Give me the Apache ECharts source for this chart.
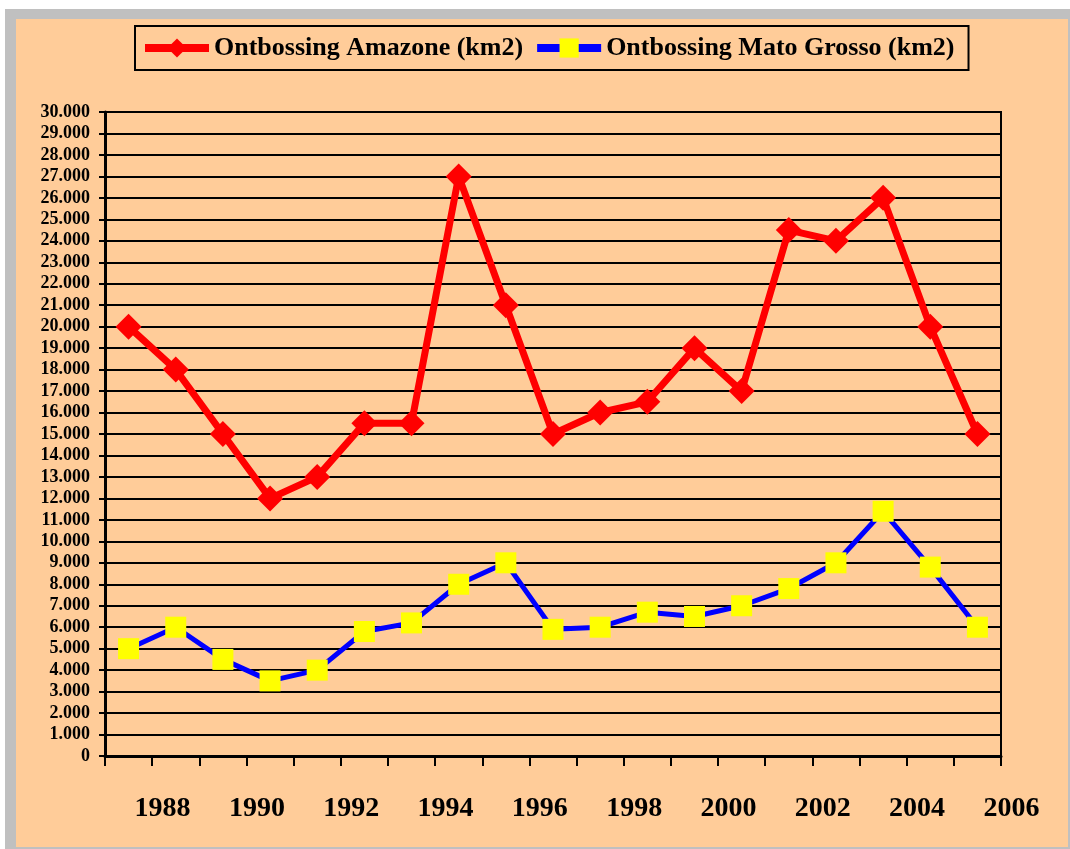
<!DOCTYPE html>
<html>
<head>
<meta charset="utf-8">
<script src="https://cdn.jsdelivr.net/npm/echarts@6/dist/echarts.min.js"></script>
<style>
  html, body { margin: 0; padding: 0; background: #ffffff; }
  #frame { position: absolute; left: 5px; top: 9px; width: 1065px; height: 840px; background: #c0c0c0; }
  #paper { position: absolute; left: 16px; top: 19px; width: 1052px; height: 828px; background: #ffcc99; }
  #main { position: absolute; left: 0; top: 0; width: 1070px; height: 849px; }
</style>
</head>
<body>
<div id="frame"></div>
<div id="paper"></div>
<div id="main"></div>
<script>
const years = ["1988", "1989", "1990", "1991", "1992", "1993", "1994", "1995", "1996", "1997",
  "1998", "1999", "2000", "2001", "2002", "2003", "2004", "2005", "2006"];
const amazone = [20000, 18000, 15000, 12000, 13000, 15500, 15500, 27000, 21000, 15000,
  16000, 16500, 19000, 17000, 24500, 24000, 26000, 20000, 15000];
const matoGrosso = [5000, 6000, 4500, 3500, 4000, 5800, 6200, 8000, 9000, 5900,
  6000, 6700, 6500, 7000, 7800, 9000, 11400, 8800, 6000];

const chart = echarts.init(document.getElementById("main"));
const font = "Liberation Serif";

// 30000 -> "30.000"
function dotted(v) {
  if (v === 0) return "0";
  return Math.round(v / 1000) + ".000";
}

const option = {
  backgroundColor: "transparent",
  animation: false,
  legend: {
    left: 135,
    top: 26,
    padding: [9, 14, 9, 6],
    itemGap: 10,
    itemWidth: 64,
    itemHeight: 24,
    borderColor: "#000",
    borderWidth: 2,
    lineStyle: { width: 8 },
    textStyle: { fontFamily: font, fontWeight: "bold", fontSize: 26, color: "#000" },
    data: ["Ontbossing Amazone (km2)", "Ontbossing Mato Grosso (km2)"]
  },
  grid: {
    left: 105,
    right: 69,
    top: 112,
    bottom: 93,
    show: true,
    borderColor: "#000",
    borderWidth: 2
  },
  xAxis: {
    type: "category",
    data: years,
    boundaryGap: true,
    axisLine: { lineStyle: { color: "#000", width: 3 } },
    axisTick: { show: true, interval: 0, length: 10, lineStyle: { color: "#000", width: 2 } },
    axisLabel: {
      interval: 1,
      align: "left",
      padding: [0, 0, 0, 6],
      margin: 39,
      fontFamily: font,
      fontWeight: "bold",
      fontSize: 28,
      color: "#000"
    }
  },
  yAxis: {
    type: "value",
    min: 0,
    max: 30000,
    interval: 1000,
    axisLine: { show: true, lineStyle: { color: "#000", width: 3 } },
    axisTick: { show: true, length: 6, lineStyle: { color: "#000", width: 2 } },
    splitLine: { lineStyle: { color: "#000", width: 2 } },
    axisLabel: {
      margin: 15,
      formatter: dotted,
      fontFamily: font,
      fontWeight: "bold",
      fontSize: 18,
      color: "#000"
    }
  },
  series: [
    {
      name: "Ontbossing Amazone (km2)",
      type: "line",
      data: amazone,
      symbol: "diamond",
      symbolSize: 26,
      lineStyle: { color: "#ff0000", width: 7 },
      itemStyle: { color: "#ff0000" }
    },
    {
      name: "Ontbossing Mato Grosso (km2)",
      type: "line",
      data: matoGrosso,
      symbol: "rect",
      symbolSize: 21,
      lineStyle: { color: "#0000ff", width: 5 },
      itemStyle: { color: "#ffff00" }
    }
  ]
};

chart.setOption(option);
</script>
</body>
</html>
